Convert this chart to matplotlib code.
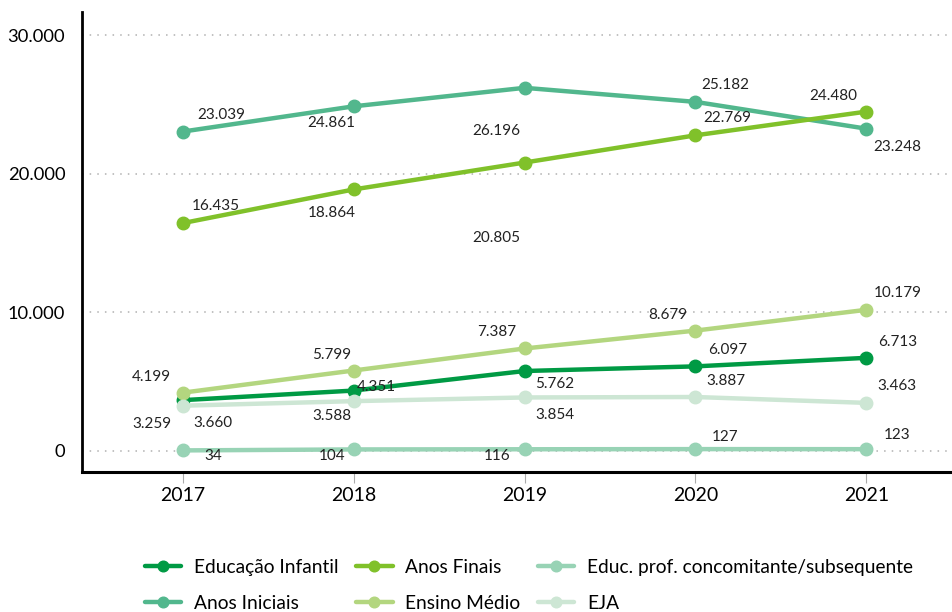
import matplotlib
matplotlib.use("Agg")
import matplotlib.pyplot as plt
from matplotlib.ticker import FuncFormatter

plt.rcParams['font.family'] = ['Lato', 'DejaVu Sans']

# dados
anos = [2017, 2018, 2019, 2020, 2021]
series_nomes = ['Educação Infantil', 'Anos Iniciais', 'Anos Finais',
                'Ensino Médio', 'Educ. prof. concomitante/subsequente', 'EJA']
educacao_infantil = [3660, 4351, 5762, 6097, 6713]
anos_iniciais = [23039, 24861, 26196, 25182, 23248]
anos_finais = [16435, 18864, 20805, 22769, 24480]
ensino_medio = [4199, 5799, 7387, 8679, 10179]
educ_prof = [34, 104, 116, 127, 123]
eja = [3259, 3588, 3854, 3887, 3463]
yticks = [0, 10000, 20000, 30000]

valores = [educacao_infantil, anos_iniciais, anos_finais, ensino_medio, educ_prof, eja]
cores = ['#009a44', '#52b78d', '#80c12a', '#b3d67f', '#98d3b5', '#cde6d4']

# deslocamento dos rótulos (pixels)
desloc = [
    [(30, -23), (23, 4), (30, -13), (32, 16), (31, 16)],
    [(39, 17), (-22, -17), (-28, -43), (30, 17), (31, -18)],
    [(33, 17), (-22, -24), (-28, -75), (32, 17), (-33, 16)],
    [(-31, 16), (-22, 16), (-28, 16), (-28, 16), (31, 17)],
    [(30, -6), (-22, -7), (-28, -7), (30, 12), (31, 14)],
    [(-31, -18), (-22, -15), (30, -18), (30, 16), (31, 17)],
]

def fmt(v):
    return f'{v:,}'.replace(',', '.')

fig = plt.figure(figsize=(9.53, 6.12), dpi=100)
ax = fig.add_axes([0.086, 0.229, 0.911, 0.751])

for nome, vals, cor, offs in zip(series_nomes, valores, cores, desloc):
    ax.plot(anos, vals, color=cor, lw=3.2, marker='o', ms=9, label=nome,
            solid_capstyle='round', zorder=3)
    for x, y, o in zip(anos, vals, offs):
        ax.annotate(fmt(y), (x, y), xytext=o, textcoords='offset pixels',
                    ha='center', va='center', fontsize=11, color='#222222')

ax.set_xlim(2016.41, 2021.49)
ax.set_ylim(-1514, 31650)
ax.set_xticks(anos)
ax.set_yticks(yticks)
ax.yaxis.set_major_formatter(FuncFormatter(lambda v, p: fmt(int(v))))
ax.grid(axis='y', linestyle=(0, (1, 4)), color='#b0b0b0', lw=1.1)
ax.set_axisbelow(True)
ax.tick_params(axis='y', length=0, labelsize=13.2, pad=12)
ax.tick_params(axis='x', length=8, color='#aaaaaa', labelsize=14, pad=3)
for s in ['top', 'right']:
    ax.spines[s].set_visible(False)
ax.spines['left'].set_linewidth(2)
ax.spines['bottom'].set_linewidth(2.2)

fig.legend(loc='lower center', bbox_to_anchor=(0.555, -0.028), ncol=3,
           frameon=False, fontsize=13.8, handlelength=1.9, columnspacing=0.93,
           labelspacing=1.0, handletextpad=0.65, markerscale=0.85)

fig.savefig('out.png', dpi=100)
